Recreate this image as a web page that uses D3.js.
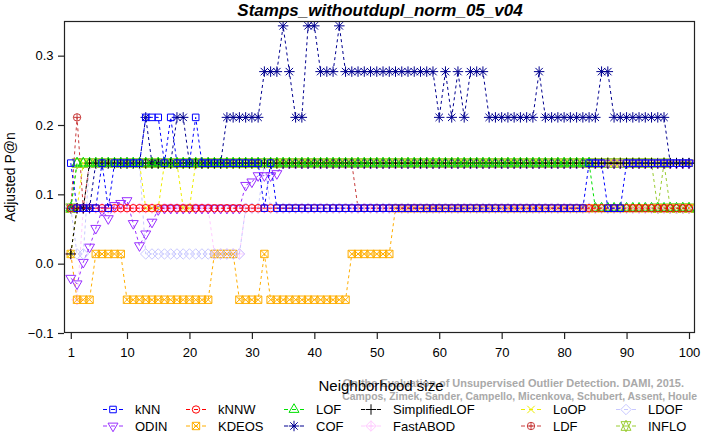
<!DOCTYPE html>
<html><head><meta charset="utf-8">
<script src="https://cdn.jsdelivr.net/npm/d3@7"></script>
<style>
body{margin:0;background:#fff}
svg{display:block}
text{font-family:"Liberation Sans",Arial,Helvetica,sans-serif}
</style>
</head><body>
<svg id="c" width="702" height="434"></svg>
<script>
// ---------------- data ----------------
const title = "Stamps_withoutdupl_norm_05_v04";
const xLabel = "Neighborhood size";
const yLabel = "Adjusted P@n";
const xTicks = [1,10,20,30,40,50,60,70,80,90,100];
const yTicks = [-0.1,0.0,0.1,0.2,0.3];
const kValues = d3.range(1,101);
const methods = ["kNN","kNNW","LOF","SimplifiedLOF","LoOP","LDOF","ODIN","KDEOS","COF","FastABOD","LDF","INFLO"];
const colors  = ["#0000ff","#ff0000","#00e000","#000000","#eeee00","#c8c8ff","#9a30ff","#ffae00","#00008f","#ffccff","#c83c3c","#9acd32"];

const kNN = [
 .145,.080,.080,.080,.080,.145,.080,.145,.145,.145,
 .145,.145,.211,.211,.211,.145,.211,.145,.145,.145,
 .211,.145,.145,.145,.145,.145,.145,.145,.145,.145,
 .145,.080,.145,.080,.080,.080,.080,.080,.080,.080,
 .080,.080,.080,.080,.080,.080,.080,.080,.080,.080,
 .080,.080,.080,.080,.080,.080,.080,.080,.080,.080,
 .080,.080,.080,.080,.080,.080,.080,.080,.080,.080,
 .080,.080,.080,.080,.080,.080,.080,.080,.080,.080,
 .080,.080,.080,.145,.145,.145,.080,.080,.080,.145,
 .145,.145,.145,.145,.145,.145,.145,.145,.145,.145];
const kNNW = [
 .080,.080,.080,.080,.080,.080,.080,.080,.080,.080,
 .080,.080,.080,.080,.080,.080,.080,.080,.080,.080,
 .080,.080,.080,.080,.080,.080,.080,.080,.080,.080,
 .080,.080,.080,.080,.080,.080,.080,.080,.080,.080,
 .080,.080,.080,.080,.080,.080,.080,.080,.080,.080,
 .080,.080,.080,.080,.080,.080,.080,.080,.080,.080,
 .080,.080,.080,.080,.080,.080,.080,.080,.080,.080,
 .080,.080,.080,.080,.080,.080,.080,.080,.080,.080,
 .080,.080,.080,.080,.080,.080,.080,.080,.080,.080,
 .080,.080,.080,.080,.080,.080,.080,.080,.080,.080];
const LOF = [
 .080,.145,.145,.145,.145,.145,.145,.145,.145,.145,
 .145,.145,.145,.145,.145,.145,.145,.145,.145,.145,
 .145,.145,.145,.145,.145,.145,.145,.145,.145,.145,
 .145,.145,.145,.145,.145,.145,.145,.145,.145,.145,
 .145,.145,.145,.145,.145,.145,.145,.145,.145,.145,
 .145,.145,.145,.145,.145,.145,.145,.145,.145,.145,
 .145,.145,.145,.145,.145,.145,.145,.145,.145,.145,
 .145,.145,.145,.145,.145,.145,.145,.145,.145,.145,
 .145,.145,.145,.145,.080,.080,.080,.080,.080,.080,
 .080,.080,.080,.080,.080,.080,.080,.080,.080,.080];
const SimplifiedLOF = [
 .014,.080,.080,.145,.145,.145,.145,.145,.145,.145,
 .145,.145,.145,.145,.145,.145,.145,.145,.145,.145,
 .145,.145,.145,.145,.145,.145,.145,.145,.145,.145,
 .145,.145,.145,.145,.145,.145,.145,.145,.145,.145,
 .145,.145,.145,.145,.145,.145,.145,.145,.145,.145,
 .145,.145,.145,.145,.145,.145,.145,.145,.145,.145,
 .145,.145,.145,.145,.145,.145,.145,.145,.145,.145,
 .145,.145,.145,.145,.145,.145,.145,.145,.145,.145,
 .145,.145,.145,.145,.145,.145,.145,.145,.145,.145,
 .145,.145,.145,.145,.145,.145,.145,.145,.145,.145];
const LoOP = [
 .014,.080,.145,.145,.145,.145,.145,.145,.145,.145,
 .145,.145,.080,.080,.080,.145,.145,.145,.080,.080,
 .145,.145,.145,.145,.145,.145,.145,.145,.145,.145,
 .145,.145,.145,.145,.145,.145,.145,.145,.145,.145,
 .145,.145,.145,.145,.145,.145,.145,.145,.145,.145,
 .145,.145,.145,.145,.145,.145,.145,.145,.145,.145,
 .145,.145,.145,.145,.145,.145,.145,.145,.145,.145,
 .145,.145,.145,.145,.145,.145,.145,.145,.145,.145,
 .145,.145,.145,.145,.145,.145,.145,.145,.145,.145,
 .145,.145,.145,.145,.145,.145,.145,.145,.145,.145];
const LDOF = [
 .080,.014,.014,.145,.145,.145,.145,.145,.145,.145,
 .145,.145,.014,.014,.014,.014,.014,.014,.014,.014,
 .014,.014,.014,.014,.014,.014,.014,.014,.080,.080,
 .080,.145,.080,.080,.080,.080,.080,.080,.080,.080,
 .080,.080,.080,.080,.080,.080,.080,.080,.080,.080,
 .080,.080,.080,.080,.080,.080,.080,.080,.080,.080,
 .080,.080,.080,.080,.080,.080,.080,.080,.080,.080,
 .080,.080,.080,.080,.080,.080,.080,.080,.080,.080,
 .080,.080,.080,.080,.080,.080,.080,.080,.080,.080,
 .080,.080,.080,.080,.080,.080,.080,.080,.080,.080];
const ODIN = [
 -.021,-.029,.002,.024,.051,.077,.065,.084,.087,.091,
 .058,.026,.043,.060,.078,.080,.080,.080,.080,.080,
 .080,.080,.080,.080,.080,.080,.080,.080,.113,.118,
 .127,.127,.127,.130,.145,.145,.145,.145,.145,.145,
 .145,.145,.145,.145,.145,.145,.145,.145,.145,.145,
 .145,.145,.145,.145,.145,.145,.145,.145,.145,.145,
 .145,.145,.145,.145,.145,.145,.145,.145,.145,.145,
 .145,.145,.145,.145,.145,.145,.145,.145,.145,.145,
 .145,.145,.145,.145,.145,.145,.145,.145,.145,.145,
 .145,.145,.145,.145,.145,.145,.145,.145,.145,.145];
const KDEOS = [
 .014,-.052,-.052,-.052,.014,.014,.014,.014,.014,-.052,
 -.052,-.052,-.052,-.052,-.052,-.052,-.052,-.052,-.052,-.052,
 -.052,-.052,-.052,.014,.014,.014,.014,-.052,-.052,-.052,
 -.052,.014,-.052,-.052,-.052,-.052,-.052,-.052,-.052,-.052,
 -.052,-.052,-.052,-.052,-.052,.014,.014,.014,.014,.014,
 .014,.014,.080,.080,.080,.080,.080,.080,.080,.080,
 .080,.080,.080,.080,.080,.080,.080,.080,.080,.080,
 .080,.080,.080,.080,.080,.080,.080,.080,.080,.080,
 .080,.080,.080,.080,.080,.080,.080,.080,.080,.080,
 .080,.080,.080,.080,.080,.080,.080,.080,.080,.080];
const COF = [
 .080,.080,.080,.080,.145,.145,.145,.145,.145,.145,
 .145,.145,.211,.145,.145,.145,.145,.211,.211,.145,
 .145,.145,.145,.145,.145,.211,.211,.211,.211,.211,
 .211,.277,.277,.277,.343,.277,.211,.211,.343,.343,
 .277,.277,.277,.343,.277,.277,.277,.277,.277,.277,
 .277,.277,.277,.277,.277,.277,.277,.277,.277,.211,
 .277,.211,.277,.211,.277,.277,.277,.211,.211,.211,
 .211,.211,.211,.211,.211,.277,.211,.211,.211,.211,
 .211,.211,.211,.211,.211,.277,.277,.211,.211,.211,
 .211,.211,.211,.211,.211,.211,.145,.145,.145,.145];
const FastABOD = [
 .014,-.052,.080,.080,.080,.080,.080,.080,.080,.080,
 .080,.080,.080,.080,.080,.080,.080,.080,.080,.080,
 .080,.080,.080,.014,.014,.014,.014,.014,.080,.080,
 .080,.080,.080,.080,.080,.080,.080,.080,.080,.080,
 .080,.080,.080,.080,.080,.080,.080,.080,.080,.080,
 .080,.080,.080,.080,.080,.080,.080,.080,.080,.080,
 .080,.080,.080,.080,.080,.080,.080,.080,.080,.080,
 .080,.080,.080,.080,.080,.080,.080,.080,.080,.080,
 .080,.080,.080,.080,.080,.080,.080,.080,.080,.080,
 .080,.080,.080,.080,.080,.080,.080,.080,.080,.080];
const LDF = [
 .080,.211,.080,.145,.145,.145,.145,.145,.145,.145,
 .145,.145,.145,.145,.145,.145,.145,.145,.145,.145,
 .145,.145,.145,.145,.145,.145,.145,.145,.145,.145,
 .145,.145,.145,.145,.145,.145,.145,.145,.145,.145,
 .145,.145,.145,.145,.145,.145,.080,.080,.080,.080,
 .080,.080,.080,.080,.080,.080,.080,.080,.080,.080,
 .080,.080,.080,.080,.080,.080,.080,.080,.080,.080,
 .080,.080,.080,.080,.080,.080,.080,.080,.080,.080,
 .080,.080,.080,.080,.080,.080,.080,.080,.080,.080,
 .080,.080,.080,.080,.080,.080,.080,.080,.080,.080];
const INFLO = [
 .080,.145,.145,.145,.145,.145,.145,.145,.145,.145,
 .145,.145,.145,.145,.145,.145,.145,.145,.145,.145,
 .145,.145,.145,.145,.145,.145,.145,.145,.145,.145,
 .145,.145,.145,.145,.145,.145,.145,.145,.145,.145,
 .145,.145,.145,.145,.145,.145,.145,.145,.145,.145,
 .145,.145,.145,.145,.145,.145,.145,.145,.145,.145,
 .145,.145,.145,.145,.145,.145,.145,.145,.145,.145,
 .145,.145,.145,.145,.145,.145,.145,.145,.145,.145,
 .145,.145,.145,.145,.145,.145,.145,.145,.145,.145,
 .145,.145,.145,.145,.080,.145,.080,.080,.080,.080];
const seriesValues = [kNN,kNNW,LOF,SimplifiedLOF,LoOP,LDOF,ODIN,KDEOS,COF,FastABOD,LDF,INFLO];
const watermark1a = "On the Evaluation of ";
const watermark1b = "Unsupervised Outlier Detection. DAMI, 2015.";
const watermark2 = "Campos, Zimek, Sander, Campello, Micenkova, Schubert, Assent, Houle";

// ---------------- layout ----------------
const box = {l:64, r:695, t:21, b:333};
const svg = d3.select("#c");
const x = d3.scaleLinear().domain([1,100]).range([70.8,689]);
const y = d3.scaleLinear().domain([-0.1,0.35]).range([box.b, box.t]);

// marker shapes (R pch 0..11)
const S0 = 3.7;
function circ(r){return `M${r},0A${r},${r} 0 1,1 ${-r},0A${r},${r} 0 1,1 ${r},0Z`;}
function sym(t){
  const s=S0, a=1.414*s;
  switch(t){
    case 0:{const h=s*0.886;return `M${-h},${-h}H${h}V${h}H${-h}Z`;}
    case 1:return circ(s);
    case 2:{const r=1.555*s,xc=r*0.866,yc=r*0.5;return `M0,${-r}L${xc},${yc}L${-xc},${yc}Z`;}
    case 3:return `M${-a},0H${a}M0,${-a}V${a}`;
    case 4:return `M${-s},${-s}L${s},${s}M${-s},${s}L${s},${-s}`;
    case 5:return `M0,${-a}L${a},0L0,${a}L${-a},0Z`;
    case 6:{const r=1.555*s,xc=r*0.866,yc=r*0.5;return `M0,${r}L${xc},${-yc}L${-xc},${-yc}Z`;}
    case 7:return `M${-s},${-s}H${s}V${s}H${-s}ZM${-s},${-s}L${s},${s}M${-s},${s}L${s},${-s}`;
    case 8:return `M${-s},${-s}L${s},${s}M${-s},${s}L${s},${-s}M${-a},0H${a}M0,${-a}V${a}`;
    case 9:return `M0,${-a}L${a},0L0,${a}L${-a},0ZM${-a},0H${a}M0,${-a}V${a}`;
    case 10:return circ(s)+`M${-s},0H${s}M0,${-s}V${s}`;
    case 11:{const r=1.555*s,yc=1.166*s,xc=1.347*s;
      return `M0,${-r}L${xc},${yc}L${-xc},${yc}ZM0,${r}L${xc},${-yc}L${-xc},${-yc}Z`;}
  }
}

svg.append("defs").append("clipPath").attr("id","pc").append("rect")
  .attr("x",box.l).attr("y",box.t).attr("width",box.r-box.l).attr("height",box.b-box.t);

// series (drawn last-to-first, so kNN ends on top)
const plot = svg.append("g").attr("clip-path","url(#pc)");
const line = d3.line().x((d,i)=>x(kValues[i])).y(d=>y(d));
d3.range(seriesValues.length-1,-1,-1).forEach(si=>{
  const vals = seriesValues[si];
  const g = plot.append("g");
  g.append("path").attr("d",line(vals)).attr("fill","none")
    .attr("stroke",colors[si]).attr("stroke-width",1).attr("stroke-dasharray","3,3");
  g.selectAll("path.m").data(vals).enter().append("path").attr("class","m")
    .attr("d",sym(si)).attr("transform",(d,i)=>`translate(${x(kValues[i])},${y(d)})`)
    .attr("fill","none").attr("stroke",colors[si]).attr("stroke-width",1);
});

// frame
svg.append("rect").attr("x",box.l+0.5).attr("y",box.t+0.5)
  .attr("width",box.r-box.l-1).attr("height",box.b-box.t-1)
  .attr("fill","none").attr("stroke","#222").attr("stroke-width",1.2);

// axes
const ax = svg.append("g").attr("transform",`translate(0,${box.b})`)
  .call(d3.axisBottom(x).tickValues(xTicks).tickSize(6).tickPadding(8.5).tickFormat(d3.format("d")));
const ay = svg.append("g").attr("transform",`translate(${box.l},0)`)
  .call(d3.axisLeft(y).tickValues(yTicks).tickSize(6).tickPadding(4.5).tickFormat(d3.format(".1f")));
[ax,ay].forEach(a=>{
  a.select(".domain").remove();
  a.selectAll("line").attr("stroke","#222").attr("stroke-width",1.2);
  a.selectAll("text").attr("font-size",13).attr("fill","#000")
   .attr("font-family",'"Liberation Sans",Arial,sans-serif');
});

// title & labels
svg.append("text").attr("x",380).attr("y",16).attr("text-anchor","middle")
  .attr("font-size",17).attr("font-weight","bold").attr("font-style","italic").text(title);
svg.append("text").attr("transform","translate(15,177) rotate(-90)").attr("text-anchor","middle")
  .attr("font-size",14).text(yLabel);

// watermark (behind x label)
const wm = svg.append("g").attr("fill","#a9a9a9").attr("font-weight","bold")
  .style("font-family",'"DejaVu Sans",sans-serif');
const w2 = wm.append("text").attr("x",697).attr("y",399.5).attr("text-anchor","end").attr("font-size",10).text(watermark2);
w2.attr("font-size",10*355/w2.node().getComputedTextLength());
const w1m = wm.append("text").attr("font-size",10).text(watermark1b);
const fs1 = 10*232/w1m.node().getComputedTextLength();
w1m.remove();
wm.append("text").attr("x",684).attr("y",387).attr("text-anchor","end").attr("font-size",fs1)
  .text(watermark1a+watermark1b);

svg.append("text").attr("x",381).attr("y",391).attr("text-anchor","middle")
  .attr("font-size",15).text(xLabel);

// legend
const lfs = 13, rowsY = [409.5, 426];
const colX = [135, 218, 316, 393, 553, 648];
const lg = svg.append("g");
methods.forEach((m,i)=>{
  const c = i%6, r = Math.floor(i/6);
  const cx = colX[c], cy = rowsY[r];
  lg.append("line").attr("x1",cx-32).attr("x2",cx-12).attr("y1",cy).attr("y2",cy)
    .attr("stroke",colors[i]).attr("stroke-dasharray","4,4");
  lg.append("path").attr("d",sym(i)).attr("transform",`translate(${cx-22},${cy})`)
    .attr("fill","none").attr("stroke",colors[i]);
  lg.append("text").attr("x",cx).attr("y",cy+4.5).attr("font-size",lfs).text(m);
});
</script>
</body></html>
